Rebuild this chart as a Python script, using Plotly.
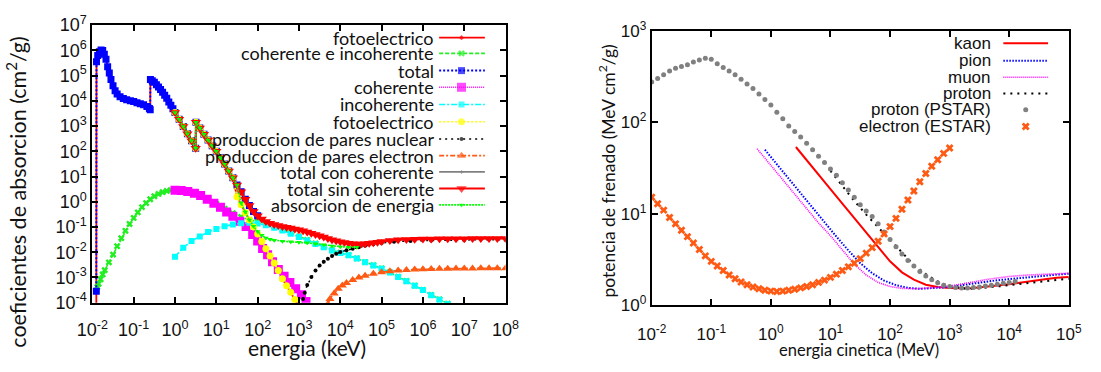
import plotly.graph_objects as go

W, H = 1101, 372

# ---------------- LEFT CHART DATA (log10 energy [keV], log10 coefficient [cm2/g]) ----------------
total_logE = [-1.905, -1.9, -1.87, -1.83, -1.79, -1.75, -1.71, -1.67, -1.63, -1.59, -1.55, -1.5, -1.45,
              -1.4, -1.33, -1.25, -1.17, -1.08, -1.0, -0.92, -0.84, -0.76, -0.68, -0.62, -0.6, -0.595,
              -0.55, -0.5, -0.45, -0.4, -0.35, -0.3, -0.25, -0.2, -0.15, -0.1, -0.05, 0.0, 0.1, 0.2,
              0.3, 0.4, 0.5, 0.507, 0.6, 0.7, 0.8, 0.9, 1.0, 1.1, 1.2, 1.3, 1.4, 1.5, 1.6, 1.7, 1.8,
              1.9, 2.0]
total_logmu = [-3.55, 5.55, 5.8, 5.95, 6.02, 6.0, 5.85, 5.65, 5.35, 5.1, 4.85, 4.6, 4.4,
               4.27, 4.16, 4.09, 4.04, 4.0, 3.97, 3.93, 3.89, 3.85, 3.78, 3.7, 3.65, 4.85,
               4.8, 4.74, 4.64, 4.55, 4.45, 4.34, 4.22, 4.1, 3.96, 3.83, 3.69, 3.54, 3.27, 2.98,
               2.7, 2.42, 2.12, 3.15, 2.92, 2.68, 2.45, 2.22, 2.0, 1.75, 1.5, 1.22, 0.95, 0.67, 0.4,
               0.1, -0.15, -0.38, -0.55]

photo_logE = [-1.905, -1.9, -1.87, -1.83, -1.79, -1.75, -1.71, -1.67, -1.63, -1.59, -1.55, -1.5, -1.45,
              -1.4, -1.33, -1.25, -1.17, -1.08, -1.0, -0.92, -0.84, -0.76, -0.68, -0.62, -0.6, -0.595,
              -0.55, -0.5, -0.45, -0.4, -0.35, -0.3, -0.25, -0.2, -0.15, -0.1, -0.05, 0.0, 0.1, 0.2,
              0.3, 0.4, 0.5, 0.507, 0.6, 0.7, 0.8, 0.9, 1.0, 1.1, 1.2, 1.3, 1.4, 1.5, 1.6, 1.7, 1.8,
              1.9, 2.0, 2.1, 2.2, 2.3, 2.4, 2.5, 2.6, 2.7, 2.8, 2.9, 3.0]
photo_logmu = [-6.0, 5.55, 5.8, 5.95, 6.02, 6.0, 5.85, 5.65, 5.35, 5.1, 4.85, 4.6, 4.4,
               4.27, 4.16, 4.09, 4.04, 4.0, 3.97, 3.93, 3.89, 3.85, 3.78, 3.7, 3.65, 4.85,
               4.8, 4.74, 4.64, 4.55, 4.45, 4.34, 4.22, 4.1, 3.96, 3.83, 3.69, 3.54, 3.27, 2.98,
               2.7, 2.42, 2.12, 3.15, 2.92, 2.68, 2.45, 2.22, 2.0, 1.75, 1.5, 1.22, 0.95, 0.2, -0.12,
               -0.43, -0.72, -1.0, -1.28, -1.57, -1.86, -2.15, -2.43, -2.72, -3.05, -3.33, -3.58,
               -3.87, -4.15]

cohinc_logE = [-1.905, -1.88, -1.85, -1.8, -1.75, -1.7, -1.6, -1.5, -1.4, -1.3, -1.2, -1.1, -1.0, -0.9,
               -0.8, -0.7, -0.6, -0.5, -0.4, -0.3, -0.2, -0.1, 0.0, 0.2, 0.4, 0.6, 0.8, 1.0, 1.2, 1.4,
               1.6, 1.8, 2.0, 2.2, 2.4, 2.6, 2.8, 3.0, 3.2, 3.4, 3.6, 3.8, 4.0, 4.2, 4.4, 4.6, 4.8,
               5.0, 5.2, 5.4, 5.6, 5.8, 6.0, 6.2, 6.4, 6.6]
cohinc_logmu = [-3.52, -3.38, -3.25, -3.07, -2.88, -2.71, -2.4, -2.09, -1.76, -1.44, -1.15, -0.88, -0.64,
                -0.42, -0.21, -0.05, 0.1, 0.22, 0.31, 0.38, 0.43, 0.46, 0.47, 0.44, 0.37, 0.27, 0.11,
                -0.08, -0.27, -0.45, -0.6, -0.72, -0.78, -0.86, -0.97, -1.09, -1.23, -1.37, -1.51,
                -1.65, -1.79, -1.92, -2.02, -2.11, -2.24, -2.39, -2.51, -2.64, -2.79, -2.97, -3.14,
                -3.32, -3.49, -3.69, -3.87, -4.04]

coher_logE = [0.0, 0.15, 0.31, 0.47, 0.62, 0.78, 0.94, 1.1, 1.25, 1.4, 1.57, 1.72, 1.88, 2.0, 2.12,
              2.24, 2.36, 2.5, 2.64, 2.78, 2.92, 3.06, 3.17]
coher_logmu = [0.46, 0.45, 0.41, 0.34, 0.25, 0.1, -0.06, -0.22, -0.4, -0.57, -0.77, -0.98, -1.3, -1.55,
               -1.85, -2.1, -2.38, -2.68, -2.95, -3.2, -3.45, -3.68, -3.95]

incoh_logE = [0.0, 0.2, 0.4, 0.6, 0.8, 1.0, 1.2, 1.4, 1.6, 1.8, 2.0, 2.2, 2.4, 2.6, 2.8, 3.0, 3.2, 3.4,
              3.6, 3.8, 4.0, 4.2, 4.4, 4.6, 4.8, 5.0, 5.2, 5.4, 5.6, 5.8, 6.0, 6.2, 6.4, 6.6]
incoh_logmu = [-2.18, -1.82, -1.55, -1.38, -1.2, -1.08, -0.97, -0.9, -0.85, -0.83, -0.86, -0.93, -1.03,
               -1.14, -1.27, -1.4, -1.53, -1.67, -1.8, -1.93, -2.03, -2.12, -2.25, -2.4, -2.52, -2.65,
               -2.8, -2.98, -3.15, -3.33, -3.5, -3.7, -3.88, -4.05]

photo2_logE = [0.0, 0.1, 0.2, 0.3, 0.4, 0.5, 0.507, 0.6, 0.7, 0.8, 0.9, 1.0, 1.1, 1.2, 1.3, 1.4, 1.5,
               1.6, 1.7, 1.8, 1.9, 2.0, 2.1, 2.2, 2.3, 2.4, 2.5, 2.6, 2.7, 2.8, 2.9, 3.0]
photo2_logmu = [3.54, 3.27, 2.98, 2.7, 2.42, 2.12, 3.15, 2.92, 2.68, 2.45, 2.22, 2.0, 1.75, 1.5, 1.22,
                0.95, 0.2, -0.12, -0.43, -0.72, -1.0, -1.28, -1.57, -1.86, -2.15, -2.43, -2.72, -3.05,
                -3.33, -3.58, -3.87, -4.15]

nuc_logE = [3.07, 3.1, 3.14, 3.2, 3.3, 3.4, 3.5, 3.6, 3.7, 3.8, 3.9, 4.0, 4.15, 4.3, 4.45, 4.6, 4.8,
            5.0, 5.3, 5.7, 6.2, 7.0, 8.0]
nuc_logmu = [-4.1, -3.85, -3.6, -3.3, -2.98, -2.72, -2.52, -2.38, -2.26, -2.15, -2.06, -1.99, -1.92,
             -1.86, -1.8, -1.74, -1.68, -1.63, -1.58, -1.55, -1.53, -1.51, -1.5]

elec_logE = [3.7, 3.75, 3.85, 3.95, 4.05, 4.15, 4.3, 4.45, 4.6, 4.8, 5.0, 5.2, 5.4, 5.6, 5.8, 6.0, 6.2,
             6.4, 6.6, 6.8, 7.0, 7.2, 7.4, 7.6, 7.8, 8.0]
elec_logmu = [-4.05, -3.85, -3.63, -3.45, -3.32, -3.22, -3.1, -3.0, -2.93, -2.85, -2.79, -2.75, -2.72,
              -2.7, -2.68, -2.67, -2.66, -2.65, -2.65, -2.64, -2.64, -2.64, -2.63, -2.63, -2.63, -2.63]

tot2_logE = [0.0, 0.1, 0.2, 0.3, 0.4, 0.5, 0.507, 0.6, 0.7, 0.8, 0.9, 1.0, 1.1, 1.2, 1.3, 1.4, 1.5, 1.6,
             1.7, 1.8, 1.9, 2.0, 2.1, 2.2, 2.3, 2.4, 2.5, 2.6, 2.7, 2.8, 2.9, 3.0, 3.1, 3.2, 3.3, 3.4,
             3.5, 3.6, 3.7, 3.8, 3.9, 4.0, 4.1, 4.2, 4.3, 4.4, 4.5, 4.6, 4.7, 4.8, 4.9, 5.0, 5.2, 5.4,
             5.6, 5.8, 6.0, 6.2, 6.4, 6.6, 6.8, 7.0, 7.2, 7.4, 7.6, 7.8, 8.0]
tot2_logmu = [3.54, 3.27, 2.98, 2.7, 2.42, 2.12, 3.15, 2.92, 2.68, 2.45, 2.22, 2.0, 1.75, 1.5, 1.22,
              0.95, 0.67, 0.4, 0.1, -0.15, -0.38, -0.55, -0.68, -0.78, -0.85, -0.9, -0.94, -0.98,
              -1.01, -1.04, -1.08, -1.11, -1.15, -1.2, -1.25, -1.3, -1.35, -1.4, -1.45, -1.5, -1.54,
              -1.58, -1.61, -1.64, -1.66, -1.67, -1.67, -1.66, -1.64, -1.62, -1.6, -1.57, -1.53,
              -1.5, -1.49, -1.48, -1.47, -1.47, -1.46, -1.46, -1.46, -1.46, -1.45, -1.45, -1.45,
              -1.45, -1.45]

absor_logE = [0.0, 0.1, 0.2, 0.3, 0.4, 0.5, 0.507, 0.6, 0.7, 0.8, 0.9, 1.0, 1.1, 1.2, 1.3, 1.4, 1.5,
              1.6, 1.7, 1.8, 1.9, 2.0, 2.1, 2.2, 2.3, 2.4, 2.6, 2.8, 3.0, 3.2, 3.4, 3.6, 3.8, 4.0,
              4.2, 4.4]
absor_logmu = [3.54, 3.27, 2.98, 2.7, 2.42, 2.12, 3.15, 2.92, 2.68, 2.45, 2.22, 2.0, 1.75, 1.5, 1.22,
               0.95, 0.67, -0.05, -0.4, -0.72, -0.97, -1.18, -1.33, -1.43, -1.48, -1.52, -1.56,
               -1.58, -1.6, -1.62, -1.66, -1.7, -1.75, -1.78, -1.8, -1.8]

# ---------------- RIGHT CHART DATA (log10 kinetic energy [MeV], log10 stopping power) ----------------
kaon_logE = [0.42, 0.6, 0.8, 1.0, 1.2, 1.4, 1.6, 1.8, 2.0, 2.2, 2.4, 2.6, 2.8, 3.0, 3.2, 3.4, 3.6,
             3.8, 4.0, 4.2, 4.4, 4.6, 4.8, 5.0]
kaon_logS = [1.73, 1.59, 1.43, 1.27, 1.11, 0.95, 0.79, 0.63, 0.48, 0.36, 0.28, 0.225, 0.2, 0.19, 0.185,
             0.19, 0.2, 0.215, 0.23, 0.25, 0.27, 0.285, 0.3, 0.31]

pion_logE = [-0.1, 0.1, 0.3, 0.5, 0.7, 0.9, 1.1, 1.3, 1.5, 1.7, 1.9, 2.1, 2.3, 2.5, 2.7, 2.9, 3.1,
             3.3, 3.5, 3.7, 3.9, 4.2, 4.5, 4.8, 5.0]
pion_logS = [1.70, 1.54, 1.38, 1.22, 1.06, 0.91, 0.75, 0.6, 0.46, 0.35, 0.27, 0.22, 0.19, 0.18, 0.185,
             0.195, 0.21, 0.23, 0.25, 0.265, 0.28, 0.3, 0.32, 0.335, 0.345]

muon_logE = [-0.23, 0.0, 0.2, 0.4, 0.6, 0.8, 1.0, 1.2, 1.4, 1.6, 1.8, 2.0, 2.2, 2.4, 2.6, 2.8, 3.0,
             3.2, 3.4, 3.6, 3.8, 4.0, 4.3, 4.6, 5.0]
muon_logS = [1.71, 1.53, 1.38, 1.22, 1.06, 0.9, 0.76, 0.6, 0.45, 0.33, 0.25, 0.205, 0.185, 0.18, 0.185,
             0.195, 0.21, 0.23, 0.255, 0.28, 0.3, 0.315, 0.33, 0.34, 0.35]

proton_logE = [1.0, 1.2, 1.4, 1.6, 1.8, 2.0, 2.2, 2.4, 2.6, 2.8, 3.0, 3.2, 3.4, 3.6, 3.8, 4.0, 4.2,
               4.4, 4.6, 4.8, 5.0]
proton_logS = [1.47, 1.3, 1.14, 0.99, 0.85, 0.71, 0.57, 0.44, 0.34, 0.26, 0.21, 0.185, 0.18, 0.19,
               0.205, 0.22, 0.235, 0.25, 0.265, 0.28, 0.29]

pstar_logE = [-2.0, -1.9, -1.8, -1.7, -1.6, -1.5, -1.4, -1.3, -1.2, -1.1, -1.0, -0.9, -0.8, -0.7, -0.6,
              -0.5, -0.4, -0.3, -0.2, -0.1, 0.0, 0.1, 0.2, 0.3, 0.4, 0.5, 0.6, 0.7, 0.8, 0.9, 1.0,
              1.1, 1.2, 1.3, 1.4, 1.5, 1.6, 1.7, 1.8, 1.9, 2.0, 2.1, 2.2, 2.3, 2.4, 2.5, 2.6, 2.7,
              2.8, 2.9, 3.0, 3.1, 3.2, 3.3, 3.4, 3.5, 3.6, 3.7, 3.8, 3.9, 4.0, 4.1]
pstar_logS = [2.44, 2.48, 2.52, 2.56, 2.59, 2.61, 2.63, 2.66, 2.68, 2.70, 2.69, 2.64, 2.60, 2.56, 2.52,
              2.47, 2.42, 2.37, 2.31, 2.25, 2.19, 2.11, 2.04, 1.96, 1.9, 1.84, 1.77, 1.7, 1.63, 1.56,
              1.49, 1.42, 1.34, 1.26, 1.18, 1.1, 1.03, 0.97, 0.89, 0.8, 0.72, 0.64, 0.56, 0.49, 0.43,
              0.37, 0.32, 0.28, 0.245, 0.22, 0.205, 0.195, 0.19, 0.19, 0.195, 0.2, 0.21, 0.22, 0.23,
              0.24, 0.25, 0.26]

estar_logE = [-2.0, -1.9, -1.8, -1.7, -1.6, -1.5, -1.4, -1.3, -1.2, -1.1, -1.0, -0.9, -0.8, -0.7, -0.6,
              -0.5, -0.4, -0.3, -0.2, -0.1, 0.0, 0.1, 0.2, 0.3, 0.4, 0.5, 0.6, 0.7, 0.8, 0.9, 1.0,
              1.1, 1.2, 1.3, 1.4, 1.5, 1.6, 1.7, 1.8, 1.9, 2.0, 2.1, 2.2, 2.3, 2.4, 2.5, 2.6, 2.7,
              2.8, 2.9, 3.0]
estar_logS = [1.18, 1.11, 1.04, 0.96, 0.89, 0.82, 0.75, 0.68, 0.61, 0.54, 0.48, 0.43, 0.38, 0.33, 0.29,
              0.255, 0.225, 0.2, 0.18, 0.165, 0.155, 0.15, 0.155, 0.165, 0.175, 0.19, 0.205, 0.225,
              0.25, 0.275, 0.305, 0.34, 0.38, 0.42, 0.46, 0.51, 0.57, 0.63, 0.7, 0.78, 0.86, 0.95,
              1.05, 1.15, 1.25, 1.35, 1.44, 1.52, 1.59, 1.66, 1.72]

left_xticks = [-2, -1, 0, 1, 2, 3, 4, 5, 6, 7, 8]
left_yticks = [-4, -3, -2, -1, 0, 1, 2, 3, 4, 5, 6, 7]
right_xticks = [-2, -1, 0, 1, 2, 3, 4, 5]
right_yticks = [0, 1, 2, 3]

left_names = ["fotoelectrico", "coherente e incoherente", "total", "coherente", "incoherente",
              "fotoelectrico", "produccion de pares nuclear", "produccion de pares electron",
              "total con coherente", "total sin coherente", "absorcion de energia"]
right_names = ["kaon", "pion", "muon", "proton", "proton (PSTAR)", "electron (ESTAR)"]


def pw(v):
    return [10 ** x for x in v]


def tt(e):
    return "10<sup>%d</sup>" % e


SANS = "Liberation Sans, Arial, sans-serif"
TXTFONT = "Lato, Open Sans, sans-serif"
INK = "#111111"

fig = go.Figure()

# style table for the left chart: (x, y, color, dash, width, symbol, size)
left_series = [
    (photo_logE, photo_logmu, "#ff0000", "solid", 1.8, "diamond", 4),
    (cohinc_logE, cohinc_logmu, "#22ee22", "4px,2px", 1.6, "x", 6),
    (total_logE, total_logmu, "#0000ff", "2px,2px", 2, "square", 7),
    (coher_logE, coher_logmu, "#ff00ff", "1px,1px", 1.4, "square", 9),
    (incoh_logE, incoh_logmu, "#00ffff", "6px,2px,2px,2px", 1.6, "square", 6),
    (photo2_logE, photo2_logmu, "#ffff00", "2px,2px", 1.6, "circle", 7),
    (nuc_logE, nuc_logmu, "#000000", "2px,4px", 1.5, "circle", 4),
    (elec_logE, elec_logmu, "#ff5a14", "5px,2px,2px,2px", 1.6, "triangle-up", 8),
    (tot2_logE, tot2_logmu, "#808080", "solid", 1.8, "cross", 3),
    (tot2_logE, tot2_logmu, "#ff0000", "solid", 2, "triangle-down", 9),
    (absor_logE, absor_logmu, "#00ff00", "2px,1px", 1.6, "triangle-down", 5),
]
for i, (xs, ys, c, d, w, s, sz) in enumerate(left_series):
    fig.add_trace(go.Scatter(x=pw(xs), y=pw(ys), mode="lines+markers", name=left_names[i],
                             line=dict(color=c, dash=d, width=w),
                             marker=dict(symbol=s, size=sz, color=c, line=dict(width=0)),
                             xaxis="x", yaxis="y", showlegend=False))

right_series = [
    (kaon_logE, kaon_logS, "#ff0000", "solid", 2, "lines", None, 0),
    (pion_logE, pion_logS, "#0000ff", "1.5px,1.5px", 2, "lines", None, 0),
    (muon_logE, muon_logS, "#ff00ff", "1px,1px", 1.6, "lines", None, 0),
    (proton_logE, proton_logS, "#000000", "2px,5px", 2, "lines", None, 0),
    (pstar_logE, pstar_logS, "#808080", "solid", 0, "markers", "circle", 5),
    (estar_logE, estar_logS, "#ff5a14", "solid", 0, "markers", "x", 7),
]
for i, (xs, ys, c, d, w, m, s, sz) in enumerate(right_series):
    kw = dict(x=pw(xs), y=pw(ys), mode=m, name=right_names[i], xaxis="x2", yaxis="y2",
              showlegend=False)
    if m == "lines":
        kw["line"] = dict(color=c, dash=d, width=w)
    else:
        kw["marker"] = dict(symbol=s, size=sz, color=c, line=dict(width=0))
    fig.add_trace(go.Scatter(**kw))

# ---------------- custom legends (gnuplot style: text right, key sample left) ----------------
ann = []
left_rows = [27.3, 44, 62.3, 80, 98.3, 116.7, 135, 152.7, 170, 187.7, 205]
for i, (xs, ys, c, d, w, s, sz) in enumerate(left_series):
    yrow = left_rows[i]
    fig.add_trace(go.Scatter(x=[435, 458, 482], y=[yrow] * 3, mode="lines+markers",
                             line=dict(color=c, dash=d, width=w),
                             marker=dict(symbol=s, size=[0, sz, 0], color=c, line=dict(width=0)),
                             xaxis="x3", yaxis="y3", showlegend=False, hoverinfo="skip"))
    ann.append(dict(x=432, y=yrow, xref="x3", yref="y3", text=left_names[i], showarrow=False,
                    xanchor="right", yanchor="middle", font=dict(family=TXTFONT, size=18, color=INK)))

right_rows = [33.3, 51.7, 69.3, 86.7, 104, 121.7]
for i, (xs, ys, c, d, w, m, s, sz) in enumerate(right_series):
    yrow = right_rows[i]
    if m == "lines":
        fig.add_trace(go.Scatter(x=[1015, 1061], y=[yrow] * 2, mode="lines",
                                 line=dict(color=c, dash=d, width=w),
                                 xaxis="x3", yaxis="y3", showlegend=False, hoverinfo="skip"))
    else:
        fig.add_trace(go.Scatter(x=[1038], y=[yrow], mode="markers",
                                 marker=dict(symbol=s, size=sz, color=c, line=dict(width=0)),
                                 xaxis="x3", yaxis="y3", showlegend=False, hoverinfo="skip"))
    ann.append(dict(x=1004, y=yrow, xref="x3", yref="y3", text=right_names[i], showarrow=False,
                    xanchor="right", yanchor="middle", font=dict(family=SANS, size=17, color=INK)))

# axis titles
ann.append(dict(x=1, y=191, xref="x3", yref="y3", text="coeficientes de absorcion (cm<sup>2</sup>/g)",
                textangle=-90, showarrow=False, xanchor="center", yanchor="middle",
                font=dict(family=TXTFONT, size=21.5, color=INK)))
ann.append(dict(x=299, y=357, xref="x3", yref="y3", text="energia (keV)", showarrow=False,
                xanchor="center", yanchor="middle", font=dict(family=TXTFONT, size=21, color=INK)))
ann.append(dict(x=607, y=169, xref="x3", yref="y3", text="potencia de frenado (MeV cm<sup>2</sup>/g)",
                textangle=-90, showarrow=False, xanchor="center", yanchor="middle",
                font=dict(family=TXTFONT, size=17.5, color=INK)))
ann.append(dict(x=867, y=359, xref="x3", yref="y3", text="energia cinetica (MeV)", showarrow=False,
                xanchor="center", yanchor="middle", font=dict(family=TXTFONT, size=16.5, color=INK)))


def axis_common(fs):
    return dict(type="log", showgrid=False, zeroline=False, showline=True, linewidth=2,
                linecolor="black", mirror="ticks", ticks="inside", ticklen=6, tickwidth=1.5,
                tickcolor="black", tickfont=dict(family=SANS, size=fs, color=INK), fixedrange=True)


fig.update_layout(
    width=W, height=H, margin=dict(l=0, r=0, t=0, b=0),
    paper_bgcolor="white", plot_bgcolor="rgba(0,0,0,0)",
    showlegend=False,
    xaxis=dict(domain=[78.5 / W, 503.3 / W], range=[-2, 8], anchor="y", ticklabelstandoff=10,
               tickvals=pw(left_xticks), ticktext=[tt(e) for e in left_xticks], **axis_common(18)),
    yaxis=dict(domain=[(H - 309) / H, (H - 14) / H], range=[-4, 7], anchor="x",
               tickvals=pw(left_yticks), ticktext=[tt(e) for e in left_yticks], **axis_common(18)),
    xaxis2=dict(domain=[653.5 / W, 1082.3 / W], range=[-2, 5], anchor="y2", ticklabelstandoff=12,
                tickvals=pw(right_xticks), ticktext=[tt(e) for e in right_xticks], **axis_common(17)),
    yaxis2=dict(domain=[(H - 311.7) / H, (H - 20) / H], range=[0, 3], anchor="x2",
                tickvals=pw(right_yticks), ticktext=[tt(e) for e in right_yticks], **axis_common(17)),
    xaxis3=dict(domain=[0, 1], range=[0, W], anchor="y3", visible=False, fixedrange=True),
    yaxis3=dict(domain=[0, 1], range=[H, 0], anchor="x3", visible=False, fixedrange=True),
    annotations=ann,
)

fig.write_html("out.html")
